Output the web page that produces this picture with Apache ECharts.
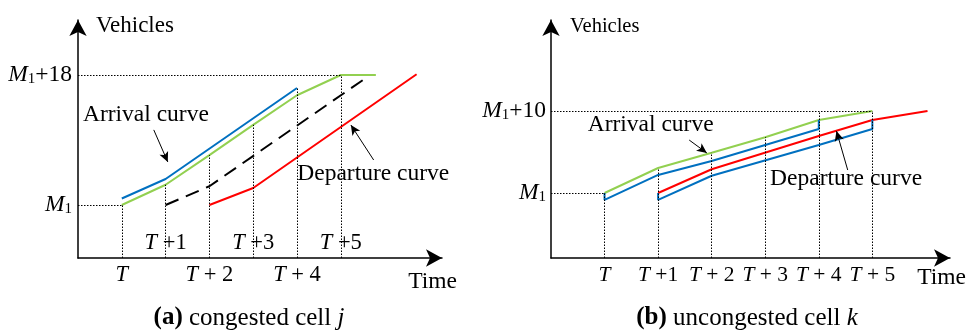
<!DOCTYPE html>
<html><head><meta charset="utf-8">
<script src="https://cdn.jsdelivr.net/npm/echarts@6/dist/echarts.min.js"></script>
<style>html,body{margin:0;padding:0;background:#fff}#c{width:969px;height:332px}</style>
</head><body><div id="c"></div>
<script>
// ---- tick labels (x = steps after T, y = vehicles above M1)
const xTickValues = [0, 1, 2, 3, 4, 5];
const xTickLabelsA = ['T', 'T +1', 'T + 2', 'T +3', 'T + 4', 'T +5'];
const xTickLabelsB = ['T', 'T +1', 'T + 2', 'T + 3', 'T + 4', 'T + 5'];
const lowerTicksA = [0, 2, 4];
const upperTicksA = [1, 3, 5];
const yTickValuesA = [0, 18];
const yTickLabelsA = ['M1', 'M1+18'];
const yTickValuesB = [0, 10];
const yTickLabelsB = ['M1', 'M1+10'];

// ---- panel (a): congested cell j
const aBlue   = [[0, 0.9], [1, 3.6], [4, 16.2]];
const aGreen  = [[0, 0], [1, 2.8], [2, 6.9], [3, 11.1], [4, 15.2], [5, 18], [5.8, 18]];
const aDashed = [[1, 0], [2, 2.6], [5.55, 17.5]];
const aRed    = [[2, 0], [3, 2.35], [6.73, 18.1]];
const aGuideTops = [0, 2.8, 6.9, 11.1, 16.2, 18];

// ---- panel (b): uncongested cell k
const bGreen     = [[0, 0], [1, 3.05], [2, 4.9], [3, 6.8], [4, 8.9], [5, 10]];
const bBlueUpper = [[0, 0], [0, -0.85], [1, 2.2], [2, 3.9], [4, 7.8], [4, 8.9]];
const bRed       = [[1, 0], [2, 2.9], [4, 6.95], [5, 8.9], [6.03, 10]];
const bBlueLower = [[1, 0], [1, -0.85], [2, 2.1], [4, 5.85], [5, 7.8], [5, 8.9]];
const bGuideTops = [0, 3.05, 4.9, 6.8, 10, 10];

// ---- annotations (data coords)
const aNotes = [{ text: 'Arrival curve', at: [0.55, 12.5] }, { text: 'Departure curve', at: [5.74, 4.3] }];
const aArrows = [[[0.73, 10.4], [1.05, 5.96]], [[5.75, 6.23], [5.23, 11.08]]];
const bNotes = [{ text: 'Arrival curve', at: [0.86, 8.3] }, { text: 'Departure curve', at: [4.51, 1.7] }];
const bArrows = [[[1.58, 6.46], [1.91, 4.88]], [[4.54, 2.8], [4.33, 7.56]]];

const FONT = 'Liberation Serif';
const BLUE = '#0070C0', GREEN = '#92D050', RED = '#FF0000';

const xRich = (fs) => ({
  i: { fontFamily: FONT, fontStyle: 'italic', fontSize: fs, color: '#000' },
  n: { fontFamily: FONT, fontSize: fs, color: '#000' }
});
const yRich = {
  i: { fontFamily: FONT, fontStyle: 'italic', fontSize: 23.5, color: '#000' },
  s: { fontFamily: FONT, fontSize: 15, color: '#000', verticalAlign: 'bottom', lineHeight: 15 },
  n: { fontFamily: FONT, fontSize: 23.5, color: '#000' }
};
function xFmt(labels, allowed) {
  return function (v) {
    const k = Math.round(v);
    if (Math.abs(v - k) > 1e-6 || allowed.indexOf(k) < 0) return '';
    const s = labels[xTickValues.indexOf(k)];
    return '{i|' + s[0] + '}{n|' + s.slice(1) + '}';
  };
}
function yFmt(values, labels) {
  return function (v) {
    const idx = values.indexOf(Math.round(v));
    if (idx < 0 || Math.abs(v - values[idx]) > 1e-6) return '';
    const s = labels[idx];
    return '{i|M}{s|1}' + (s.length > 2 ? '{n|' + s.slice(2) + '}' : '');
  };
}

const axisLineStyle = { color: '#000', width: 1.5 };
const A = { xmin: -1, xmax: 7.31, ymin: -7.34, ymax: 25.62 };
const B = { xmin: -1, xmax: 6.45, ymin: -7.93, ymax: 21.1 };

function guides(tops, xs, ymin, hTop, hRight) {
  const d = xs.map((x, i) => [{ coord: [x, ymin] }, { coord: [x, tops[i]] }]);
  d.push([{ coord: [-1, 0] }, { coord: [0, 0] }]);
  d.push([{ coord: [-1, hTop] }, { coord: [hRight, hTop] }]);
  return d;
}
const guideStyle = { type: [1.5, 1.5], color: '#000', width: 1 };

function lineSeries(data, color, xi, yi, dashed) {
  return {
    type: 'line', data: data, xAxisIndex: xi, yAxisIndex: yi, symbol: 'none',
    lineStyle: { color: color, width: 2, type: dashed ? [14, 8] : 'solid' }, z: 3
  };
}
function noteSeries(notes, arrows, xi, yi) {
  return {
    type: 'scatter', xAxisIndex: xi, yAxisIndex: yi, symbolSize: 0, clip: false,
    itemStyle: { color: '#000', opacity: 1 },
    data: notes.map(n => ({ value: n.at, name: n.text })),
    label: { show: true, position: 'inside', formatter: '{b}', fontFamily: FONT, fontSize: 23.5,
      color: '#000', textBorderWidth: 0, textBorderColor: 'transparent', opacity: 1 },
    markLine: {
      silent: true, symbol: ['none', 'arrow'], symbolSize: [7, 10], label: { show: false },
      lineStyle: { color: '#000', width: 1, type: 'solid', opacity: 1 },
      data: arrows.map(a => [{ coord: a[0] }, { coord: a[1] }])
    }, z: 4
  };
}
const capRich = {
  b: { fontFamily: FONT, fontWeight: 'bold', fontSize: 25, fill: '#000' },
  n: { fontFamily: FONT, fontSize: 25, fill: '#000' },
  i: { fontFamily: FONT, fontStyle: 'italic', fontSize: 25, fill: '#000' }
};

const chart = echarts.init(document.getElementById('c'), null, { renderer: 'canvas' });
chart.setOption({
  animation: false,
  backgroundColor: '#fff',
  grid: [
    { left: 78, top: 20, width: 364, height: 238 },
    { left: 551, top: 20, width: 401, height: 238 }
  ],
  xAxis: [
    { gridIndex: 0, type: 'value', min: A.xmin, max: A.xmax, interval: 1,
      axisLine: { onZero: false, symbol: ['none', 'arrow'], symbolSize: [13, 16], lineStyle: axisLineStyle },
      axisTick: { show: false }, splitLine: { show: false },
      axisLabel: { formatter: xFmt(xTickLabelsA, lowerTicksA), rich: xRich(22.5), margin: 6, showMaxLabel: false, showMinLabel: false },
      name: 'Time', nameLocation: 'end', nameGap: 15,
      nameTextStyle: { fontFamily: FONT, fontSize: 23.5, color: '#000', align: 'right', verticalAlign: 'top', padding: [12, 0, 0, 0] } },
    { gridIndex: 0, type: 'value', min: A.xmin, max: A.xmax, interval: 1, position: 'bottom',
      axisLine: { show: false, onZero: false }, axisTick: { show: false }, splitLine: { show: false },
      axisLabel: { inside: true, formatter: xFmt(xTickLabelsA, upperTicksA), rich: xRich(22.5), margin: 3, showMaxLabel: false, showMinLabel: false } },
    { gridIndex: 1, type: 'value', min: B.xmin, max: B.xmax, interval: 1,
      axisLine: { onZero: false, symbol: ['none', 'arrow'], symbolSize: [13, 16], lineStyle: axisLineStyle },
      axisTick: { show: false }, splitLine: { show: false },
      axisLabel: { formatter: xFmt(xTickLabelsB, xTickValues), rich: xRich(21.5), margin: 6, showMaxLabel: false, showMinLabel: false },
      name: 'Time', nameLocation: 'end', nameGap: 16,
      nameTextStyle: { fontFamily: FONT, fontSize: 23.5, color: '#000', align: 'right', verticalAlign: 'top', padding: [8, 0, 0, 0] } }
  ],
  yAxis: [
    { gridIndex: 0, type: 'value', min: A.ymin, max: A.ymax,
      axisLine: { onZero: false, symbol: ['none', 'arrow'], symbolSize: [13, 16], lineStyle: axisLineStyle },
      axisTick: { show: false }, splitLine: { show: false },
      axisLabel: { customValues: yTickValuesA, formatter: yFmt(yTickValuesA, yTickLabelsA), rich: yRich, margin: 6 },
      name: 'Vehicles', nameLocation: 'end', nameGap: -6,
      nameTextStyle: { fontFamily: FONT, fontSize: 23, color: '#000', align: 'left', verticalAlign: 'middle', padding: [0, 0, 0, 18] } },
    { gridIndex: 1, type: 'value', min: B.ymin, max: B.ymax,
      axisLine: { onZero: false, symbol: ['none', 'arrow'], symbolSize: [13, 16], lineStyle: axisLineStyle },
      axisTick: { show: false }, splitLine: { show: false },
      axisLabel: { customValues: yTickValuesB, formatter: yFmt(yTickValuesB, yTickLabelsB), rich: yRich, margin: 5 },
      name: 'Vehicles', nameLocation: 'end', nameGap: -7,
      nameTextStyle: { fontFamily: FONT, fontSize: 20.5, color: '#000', align: 'left', verticalAlign: 'middle', padding: [0, 0, 0, 19] } }
  ],
  series: [
    Object.assign(lineSeries(aGreen, GREEN, 0, 0), {
      markLine: { silent: true, symbol: 'none', label: { show: false }, lineStyle: guideStyle,
        data: guides(aGuideTops, xTickValues, A.ymin, 18, 5) } }),
    lineSeries(aBlue, BLUE, 0, 0),
    lineSeries(aDashed, '#000', 0, 0, true),
    lineSeries(aRed, RED, 0, 0),
    noteSeries(aNotes, aArrows, 0, 0),
    Object.assign(lineSeries(bGreen, GREEN, 2, 1), {
      markLine: { silent: true, symbol: 'none', label: { show: false }, lineStyle: guideStyle,
        data: guides(bGuideTops, xTickValues, B.ymin, 10, 5) } }),
    lineSeries(bBlueUpper, BLUE, 2, 1),
    lineSeries(bRed, RED, 2, 1),
    lineSeries(bBlueLower, BLUE, 2, 1),
    noteSeries(bNotes, bArrows, 2, 1)
  ],
  graphic: [
    { type: 'text', x: 249, y: 318, style: { text: '{b|(a)}{n| congested cell }{i|j}', align: 'center', verticalAlign: 'middle', rich: capRich } },
    { type: 'text', x: 747, y: 318, style: { text: '{b|(b)}{n| uncongested cell }{i|k}', align: 'center', verticalAlign: 'middle', rich: capRich } }
  ]
});
</script></body></html>
